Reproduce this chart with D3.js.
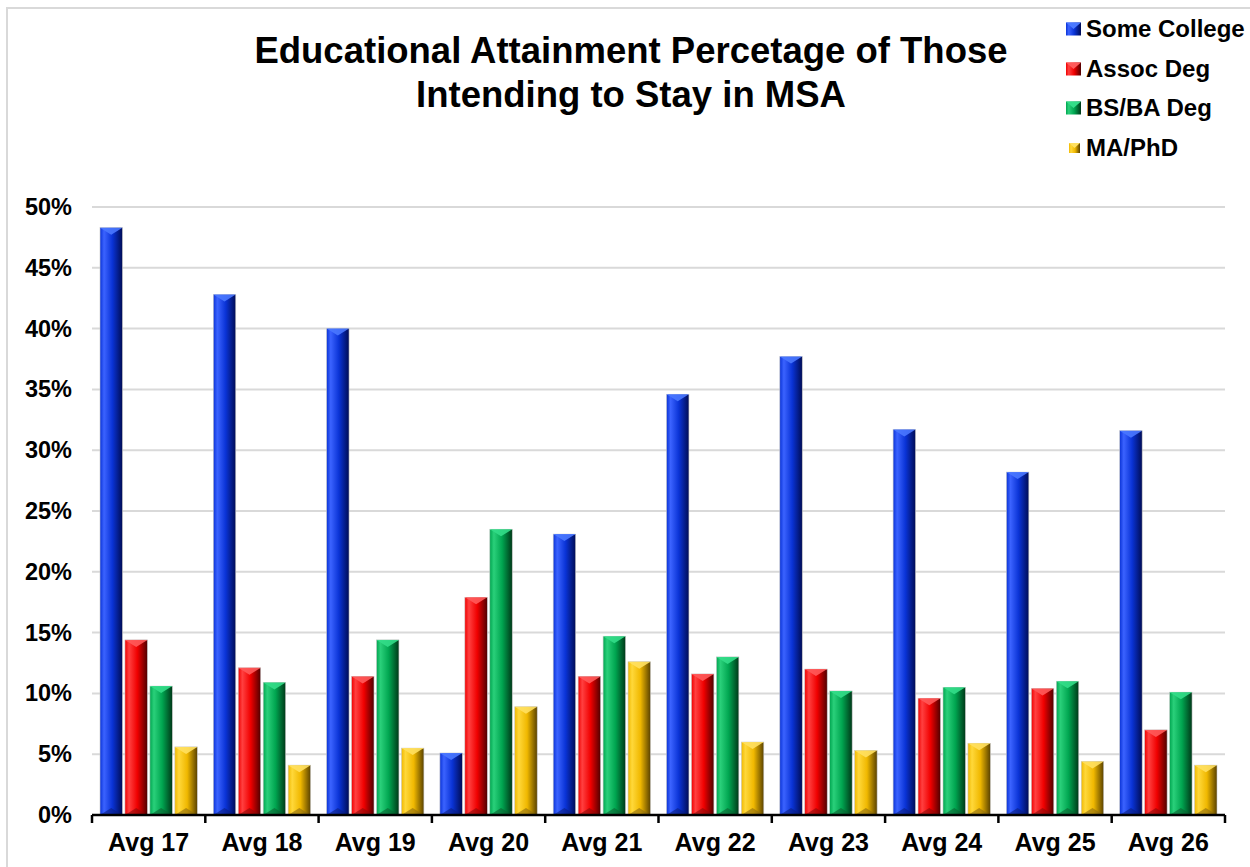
<!DOCTYPE html>
<html>
<head>
<meta charset="utf-8">
<script src="https://cdn.jsdelivr.net/npm/d3@7"></script>
<style>
  body { margin: 0; background: #fff; }
  text { font-family: "Liberation Sans", Arial, sans-serif; font-weight: bold; }
</style>
</head>
<body>
<div id="chart"></div>
<script>
// data
var categories = ["Avg 17", "Avg 18", "Avg 19", "Avg 20", "Avg 21", "Avg 22", "Avg 23", "Avg 24", "Avg 25", "Avg 26"];
var seriesNames = ["Some College", "Assoc Deg", "BS/BA Deg", "MA/PhD"];
var someCollege = [48.3, 42.8, 40.0, 5.1, 23.1, 34.6, 37.7, 31.7, 28.2, 31.6];
var assocDeg    = [14.4, 12.1, 11.4, 17.9, 11.4, 11.6, 12.0, 9.6, 10.4, 7.0];
var bsbaDeg     = [10.6, 10.9, 14.4, 23.5, 14.7, 13.0, 10.2, 10.5, 11.0, 10.1];
var maPhd       = [5.6, 4.1, 5.5, 8.9, 12.6, 6.0, 5.3, 5.9, 4.4, 4.1];
var yTicks = [0, 5, 10, 15, 20, 25, 30, 35, 40, 45, 50];

var seriesValues = [someCollege, assocDeg, bsbaDeg, maPhd];
// bright, base, dark colours per series
var palette = [
  {light: "#3b63ff", base: "#0a33d6", dark: "#000c55", top: "#4a78ff", bot: "#0a1e80"},
  {light: "#ff4040", base: "#f00000", dark: "#500000", top: "#ff5a5a", bot: "#8a0a0a"},
  {light: "#2ad07a", base: "#00a550", dark: "#003818", top: "#33dd88", bot: "#0a6030"},
  {light: "#ffd83a", base: "#f0b800", dark: "#5a4200", top: "#ffe060", bot: "#8a6a10"}
];

var W = 1250, H = 867;
var plot = {left: 92, right: 1225, top: 207, bottom: 815};

var svg = d3.select("#chart").append("svg")
  .attr("width", W)
  .attr("height", H);

// outer frame
svg.append("rect")
  .attr("x", 7).attr("y", 8)
  .attr("width", 1260).attr("height", 880)
  .style("fill", "none")
  .style("stroke", "#d9d9d9")
  .style("stroke-width", 2);

// gradients for the bevelled bars
var defs = svg.append("defs");
palette.forEach(function(c, i) {
  var g = defs.append("linearGradient")
    .attr("id", "grad" + i)
    .attr("x1", "0%").attr("x2", "100%").attr("y1", "0%").attr("y2", "0%");
  g.append("stop").attr("offset", "0%").attr("stop-color", c.base);
  g.append("stop").attr("offset", "18%").attr("stop-color", c.light);
  g.append("stop").attr("offset", "55%").attr("stop-color", c.base);
  g.append("stop").attr("offset", "100%").attr("stop-color", c.dark);
});

// scales
var x = d3.scaleBand()
  .domain(categories)
  .range([plot.left, plot.right]);

var xInner = d3.scaleBand()
  .domain(d3.range(seriesNames.length))
  .range([8, x.bandwidth() - 8])
  .paddingInner(0.1);

var y = d3.scaleLinear()
  .domain([0, 50])
  .range([plot.bottom, plot.top]);

// gridlines
svg.append("g")
  .selectAll("line")
  .data(yTicks.filter(function(d) { return d > 0; }))
  .enter()
  .append("line")
    .attr("x1", plot.left)
    .attr("x2", plot.right)
    .attr("y1", function(d) { return y(d); })
    .attr("y2", function(d) { return y(d); })
    .style("stroke", "#d9d9d9")
    .style("stroke-width", 2);

// y labels
svg.append("g")
  .selectAll("text")
  .data(yTicks)
  .enter()
  .append("text")
    .attr("x", 72)
    .attr("y", function(d) { return y(d) + 8; })
    .attr("text-anchor", "end")
    .style("font-size", "23.5px")
    .text(function(d) { return d + "%"; });

// bars
var bw = xInner.bandwidth();
var bevel = 7;
seriesValues.forEach(function(vals, si) {
  var c = palette[si];
  var grp = svg.append("g");
  var bars = grp.selectAll("g")
    .data(vals)
    .enter()
    .append("g")
      .attr("transform", function(d, i) {
        return "translate(" + (x(categories[i]) + xInner(si)) + ",0)";
      });

  bars.append("rect")
    .attr("x", 0)
    .attr("y", function(d) { return y(d); })
    .attr("width", bw)
    .attr("height", function(d) { return y(0) - y(d); })
    .style("fill", "url(#grad" + si + ")")
    .style("stroke", "#c8c8c8")
    .style("stroke-width", 0.6);

  // top bevel
  bars.append("path")
    .attr("d", function(d) {
      var t = y(d);
      return "M0," + t + "L" + bw + "," + t + "L" + (bw / 2) + "," + (t + bevel) + "Z";
    })
    .style("fill", c.top)
    .style("opacity", 0.9);

  // bottom bevel
  bars.append("path")
    .attr("d", function(d) {
      var b = y(0);
      return "M0," + b + "L" + bw + "," + b + "L" + (bw / 2) + "," + (b - bevel) + "Z";
    })
    .style("fill", c.bot)
    .style("opacity", 0.6);
});

// x axis
var xAxis = svg.append("g");
xAxis.append("line")
  .attr("x1", plot.left).attr("x2", plot.right)
  .attr("y1", plot.bottom).attr("y2", plot.bottom)
  .style("stroke", "#000")
  .style("stroke-width", 2.5);

var boundaries = categories.map(function(c) { return x(c); }).concat([plot.right]);
xAxis.selectAll("line.tick")
  .data(boundaries)
  .enter()
  .append("line")
    .attr("class", "tick")
    .attr("x1", function(d) { return d; })
    .attr("x2", function(d) { return d; })
    .attr("y1", plot.bottom)
    .attr("y2", plot.bottom + 8)
    .style("stroke", "#000")
    .style("stroke-width", 2.5);

xAxis.selectAll("text")
  .data(categories)
  .enter()
  .append("text")
    .attr("x", function(d) { return x(d) + x.bandwidth() / 2; })
    .attr("y", 851)
    .attr("text-anchor", "middle")
    .style("font-size", "25px")
    .text(function(d) { return d; });

// title
var title = svg.append("text")
  .attr("text-anchor", "middle")
  .style("font-size", "36.5px");
title.append("tspan").attr("x", 631).attr("y", 63).text("Educational Attainment Percetage of Those");
title.append("tspan").attr("x", 631).attr("y", 107).text("Intending to Stay in MSA");

// legend
var legend = svg.append("g");
var legendY = [29, 69, 108, 148];
seriesNames.forEach(function(name, i) {
  var c = palette[i];
  var sw = i === 3 ? 11 : 15;
  var sh = i === 3 ? 10 : 13;
  var lx = i === 3 ? 1069 : 1066;
  var ly = legendY[i];
  var item = legend.append("g")
    .attr("transform", "translate(" + lx + "," + (ly - sh / 2) + ")");
  item.append("rect")
    .attr("width", sw).attr("height", sh)
    .style("fill", "url(#grad" + i + ")");
  item.append("path")
    .attr("d", "M0,0L" + sw + ",0L" + (sw / 2) + "," + (sh / 2) + "Z")
    .style("fill", c.top);
  legend.append("text")
    .attr("x", 1086)
    .attr("y", ly + 8)
    .style("font-size", "24px")
    .text(name);
});
</script>
</body>
</html>
